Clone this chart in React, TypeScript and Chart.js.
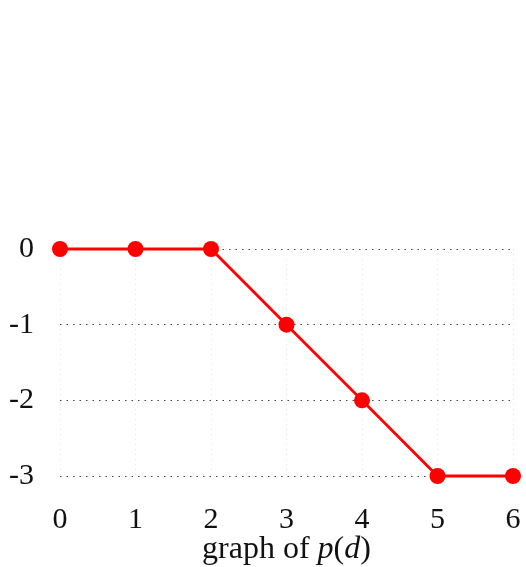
import React, { useEffect, useRef } from "react";
import { Chart, registerables } from "chart.js";

Chart.register(...registerables);

const xValues = [0, 1, 2, 3, 4, 5, 6];
const yValues = [0, 0, 0, -1, -2, -3, -3];
const xTicks = [0, 1, 2, 3, 4, 5, 6];
const yTicks = [0, -1, -2, -3];

const FONT = "'Liberation Serif', 'DejaVu Serif', serif";

const titlePlugin = {
  id: "mixedTitle",
  afterDraw(chart: any) {
    const ctx = chart.ctx;
    const parts: [string, boolean][] = [
      ["graph of ", false],
      ["p", true],
      ["(", false],
      ["d", true],
      [")", false],
    ];
    ctx.save();
    ctx.fillStyle = "#111";
    ctx.textBaseline = "alphabetic";
    let total = 0;
    const widths: number[] = [];
    for (const [t, it] of parts) {
      ctx.font = `${it ? "italic " : ""}32px ${FONT}`;
      const w = ctx.measureText(t).width;
      widths.push(w);
      total += w;
    }
    const area = chart.chartArea;
    let x = (area.left + area.right) / 2 - total / 2;
    const y = 558;
    parts.forEach(([t, it], i) => {
      ctx.font = `${it ? "italic " : ""}32px ${FONT}`;
      ctx.fillText(t, x, y);
      x += widths[i];
    });
    ctx.restore();
  },
};

export default function App() {
  const ref = useRef<HTMLCanvasElement>(null);
  useEffect(() => {
    document.body.style.margin = "0";
    const chart = new Chart(ref.current!, {
      type: "line",
      data: {
        datasets: [
          {
            data: xValues.map((x, i) => ({ x, y: yValues[i] })),
            borderColor: "#ff0000",
            backgroundColor: "#ff0000",
            borderWidth: 2.8,
            pointRadius: 8,
            pointHoverRadius: 8,
            pointBorderWidth: 0,
            tension: 0,
            clip: false as any,
          },
        ],
      },
      plugins: [titlePlugin],
      options: {
        animation: false,
        responsive: false,
        maintainAspectRatio: false,
        layout: { padding: { top: 249, right: 13, left: 0, bottom: 0 } },
        plugins: { legend: { display: false }, tooltip: { enabled: false }, title: { display: false } },
        scales: {
          x: {
            type: "linear",
            min: 0,
            max: 6,
            afterFit: (s: any) => {
              s.height = 91;
              s.paddingLeft = 0;
              s.paddingRight = 0;
            },
            afterBuildTicks: (s: any) => {
              s.ticks = xTicks.map((v) => ({ value: v }));
            },
            border: { display: false, dash: [1, 4] },
            grid: {
              color: "#e4e4e4",
              lineWidth: 1,
              drawTicks: false,
            },
            ticks: {
              color: "#111",
              padding: 26,
              font: { family: FONT, size: 30 },
            },
          },
          y: {
            type: "linear",
            min: -3,
            max: 0,
            afterFit: (s: any) => {
              s.width = 60;
              s.paddingTop = 0;
              s.paddingBottom = 0;
            },
            afterBuildTicks: (s: any) => {
              s.ticks = yTicks.map((v) => ({ value: v }));
            },
            border: { display: false, dash: [1.5, 5] },
            grid: {
              color: "#444",
              lineWidth: 1,
              drawTicks: false,
            },
            ticks: {
              color: "#111",
              padding: 26,
              font: { family: FONT, size: 30 },
            },
          },
        },
      },
    } as any);
    return () => chart.destroy();
  }, []);
  return (
    <div style={{ width: 526, height: 567 }}>
      <canvas ref={ref} width={526} height={567} style={{ width: 526, height: 567 }} />
    </div>
  );
}
